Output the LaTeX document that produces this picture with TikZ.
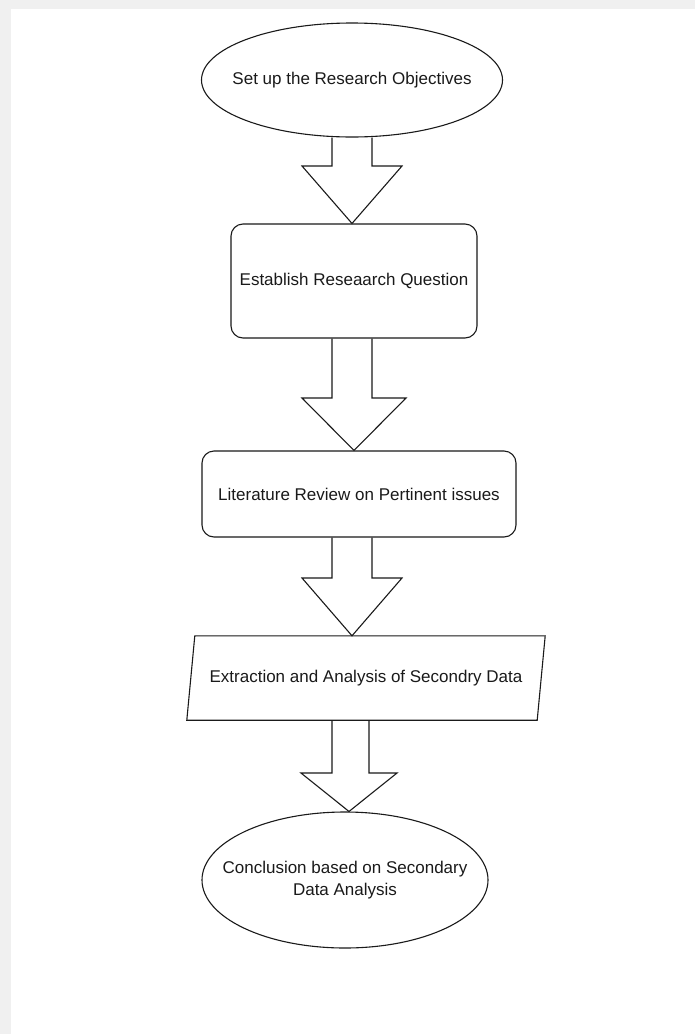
\documentclass[tikz,border=0pt]{standalone}
\usepackage{fontspec}
\setmainfont{Liberation Sans}
\usetikzlibrary{shapes.geometric,calc}
\definecolor{pagegray}{HTML}{F0F0F0}
\definecolor{inkcol}{HTML}{1A1A1A}
\begin{document}
\begin{tikzpicture}[x=1pt,y=-1pt,
  lbl/.style={font=\fontsize{17}{22}\selectfont, text=inkcol},
  ovalbox/.style={ellipse, draw=inkcol, line width=1.1pt, inner sep=0pt, lbl},
  roundbox/.style={rectangle, rounded corners=12pt, draw=inkcol, line width=1.1pt, inner sep=0pt, lbl},
  blockarrow/.style={draw=inkcol, line width=1.1pt, line join=miter}]
\useasboundingbox (0,0) rectangle (695,1034);
\fill[pagegray] (0,0) rectangle (695,1034);
\fill[white] (11,9) rectangle (695,1034);

\node[ovalbox, minimum width=301, minimum height=114] (e1) at (352,80) {\makebox[0pt]{Set up the Research Objectives}};
\node[roundbox, minimum width=246, minimum height=114] (r1) at (354,281) {Establish Reseaarch Question};
\node[roundbox, minimum width=314, minimum height=86] (r2) at (359,494) {Literature Review on Pertinent issues};
\node[lbl, inner sep=0pt, minimum width=350, minimum height=84] (p) at (366,678) {Extraction and Analysis of Secondry Data};
\draw[draw=inkcol, line width=1.1pt] ($(p.north west)+(4,0)$) -- ($(p.north east)+(4,0)$) -- ($(p.south east)+(-4,0)$) -- ($(p.south west)+(-4,0)$) -- cycle;
\node[ovalbox, minimum width=286, minimum height=136] (e2) at (345,880) {\makebox[0pt]{\begin{tabular}{@{}c@{}}Conclusion based on Secondary\\Data Analysis\end{tabular}}};

\draw[blockarrow] (332,0 |- e1.south) -- (332,166) -- (302,166) -- (352,0 |- r1.north) -- (402,166) -- (372,166) -- (372,0 |- e1.south);
\draw[blockarrow] (332,0 |- r1.south) -- (332,398) -- (302,398) -- (354,0 |- r2.north) -- (406,398) -- (372,398) -- (372,0 |- r1.south);
\draw[blockarrow] (332,0 |- r2.south) -- (332,578) -- (302,578) -- (352,0 |- p.north) -- (402,578) -- (372,578) -- (372,0 |- r2.south);
\draw[blockarrow] (332,0 |- p.south) -- (332,773) -- (301,773) -- (349,0 |- e2.north) -- (397,773) -- (369,773) -- (369,0 |- p.south);
\end{tikzpicture}
\end{document}
